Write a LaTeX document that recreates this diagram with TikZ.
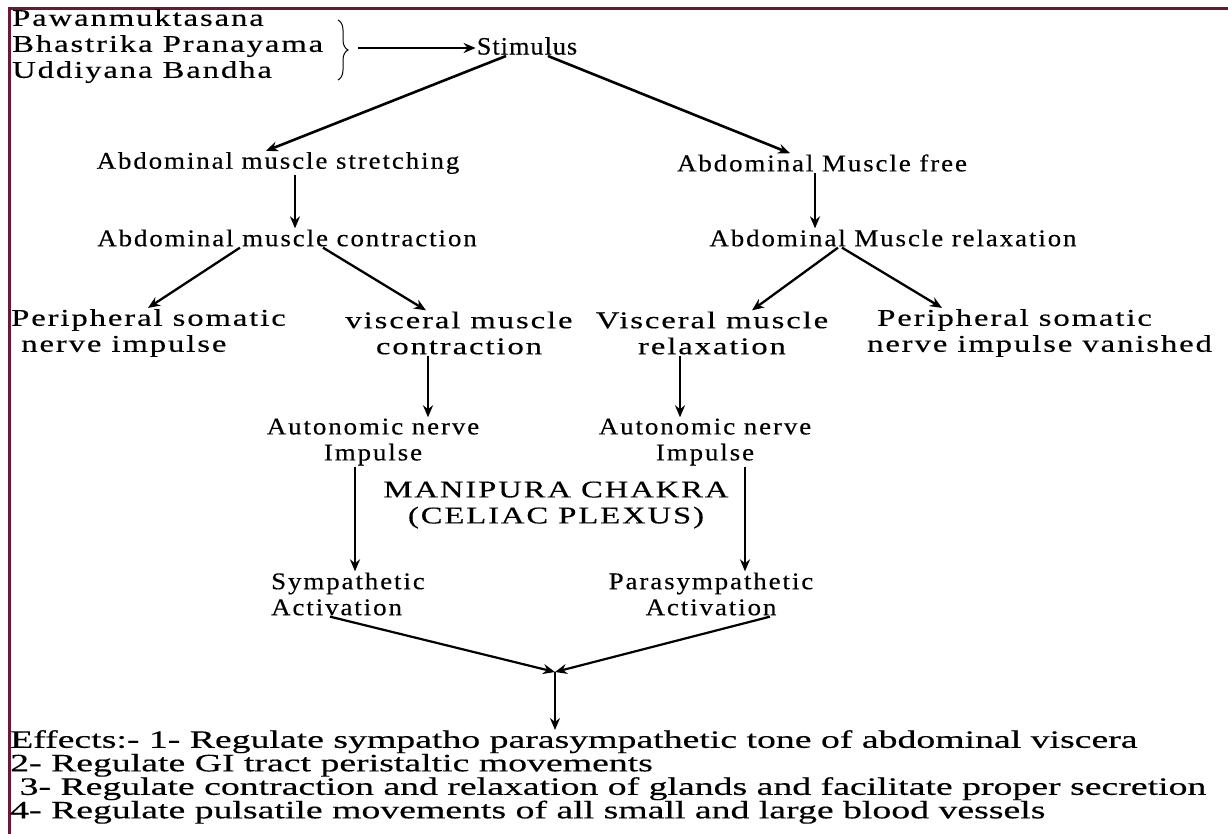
\documentclass[tikz,border=0pt]{standalone}
\usepackage{fontspec}
\setmainfont{Liberation Serif}
\newfontfamily\diagfont[FakeStretch=1.12,LetterSpace=8,FakeBold=0.4]{Liberation Serif}
\newfontfamily\widefont[FakeStretch=1.36,LetterSpace=8,FakeBold=0.4]{Liberation Serif}
\newfontfamily\stimfont[FakeStretch=1.05,LetterSpace=4,FakeBold=0.4]{Liberation Serif}
\newfontfamily\efffont[FakeStretch=1.51,FakeBold=0.4]{Liberation Serif}
\usetikzlibrary{arrows.meta,decorations.pathreplacing,positioning}
\definecolor{framered}{HTML}{6B1838}

\begin{document}
\begin{tikzpicture}[x=1pt,y=-1pt,>={Stealth[length=12pt,width=10pt]},
  lbl/.style={font=\diagfont\fontsize{24}{26}\selectfont,inner sep=1pt,align=center},
  widelbl/.style={lbl,font=\widefont\fontsize{24}{26}\selectfont},
  stimlbl/.style={lbl,font=\stimfont\fontsize{25}{26}\selectfont},
  efftxt/.style={font=\efffont\fontsize{25}{23.5}\selectfont,inner sep=0pt,align=left},
  flow/.style={->,line width=2.6pt}]
\useasboundingbox (0,0) rectangle (1228,834);
\draw[framered,line width=3pt] (9,834)--(9,9)--(1228,9);

% sources and stimulus
\node[widelbl,align=left,anchor=north west] (asanas) at (11,8) {Pawanmuktasana\\Bhastrika Pranayama\\Uddiyana Bandha};
\draw[decorate,decoration={brace,amplitude=10pt},line width=1pt] (338,20)--(338,80);
\coordinate (tip) at (358,48);
\node[stimlbl] (stim) at (527,46) {Stimulus};
\draw[flow] (tip)--(tip -| stim.west);

% two branches
\node[lbl] (stretch) at (278,163) {Abdominal muscle stretching};
\node[lbl] (free) at (822,163) {Abdominal Muscle free};
\node[lbl] (contr) at (287,238) {Abdominal muscle contraction};
\node[lbl] (relax) at (893,238) {Abdominal Muscle relaxation};
\draw[flow] ([xshift=-21pt]stim.south)--([xshift=-12pt]stretch.north);
\draw[flow] ([xshift=21pt]stim.south)--([xshift=-32pt]free.north);
\draw[flow] ([xshift=17pt]stretch.south)--([xshift=8pt]contr.north);
\draw[flow] ([xshift=-7pt]free.south)--([xshift=-78pt]relax.north);

\node[widelbl,align=left,anchor=west] (somL) at (10,333) {Peripheral somatic\\\ nerve impulse};
\node[widelbl] (viscC) at (459,333) {visceral muscle\\contraction};
\node[widelbl] (viscR) at (712,333) {Visceral muscle\\relaxation};
\node[widelbl,align=left,anchor=west] (somR) at (866,333) {\ Peripheral somatic\\nerve impulse vanished};
\draw[flow,line width=2.3pt] ([xshift=-47pt]contr.south)--([xshift=138pt]somL.north west);
\draw[flow,line width=2.3pt] ([xshift=36pt]contr.south)--([xshift=-33pt]viscC.north);
\draw[flow,line width=2.3pt] ([xshift=-55pt]relax.south)--([xshift=40pt]viscR.north);
\draw[flow,line width=2.3pt] ([xshift=-51pt]relax.south)--([xshift=76pt]somR.north west);

% autonomic level
\node[lbl] (autoL) at (373,442) {Autonomic nerve\\Impulse};
\node[lbl] (autoR) at (705,442) {Autonomic nerve\\Impulse};
\draw[flow] ([xshift=-31pt]viscC.south)--([xshift=55pt]autoL.north);
\draw[flow] ([xshift=-32pt]viscR.south)--([xshift=-25pt]autoR.north);

\node[widelbl] (chakra) at (556,505) {MANIPURA CHAKRA\\(CELIAC PLEXUS)};
\node[lbl,align=left,anchor=west] (symp) at (270,594) {Sympathetic\\Activation};
\node[lbl] (para) at (711,594) {Parasympathetic\\Activation};
\draw[flow] ([xshift=-18pt]autoL.south)--([xshift=85pt]symp.north west);
\draw[flow] ([xshift=40pt]autoR.south)--([xshift=34pt]para.north);

% effects
\coordinate (meet) at (555,672);
\node[efftxt,anchor=north west] (effects) at (10,730) {Effects:- 1- Regulate sympatho parasympathetic tone of abdominal viscera\\
2- Regulate GI tract peristaltic movements\\
\ 3- Regulate contraction and relaxation of glands and facilitate proper secretion\\
4- Regulate pulsatile movements of all small and large blood vessels};
\draw[flow,line width=2.2pt] ([xshift=60pt]symp.south west)--(meet);
\draw[flow,line width=2.2pt] ([xshift=59pt]para.south)--(meet);
\draw[flow] (meet)--(meet |- effects.north);
\end{tikzpicture}
\end{document}
